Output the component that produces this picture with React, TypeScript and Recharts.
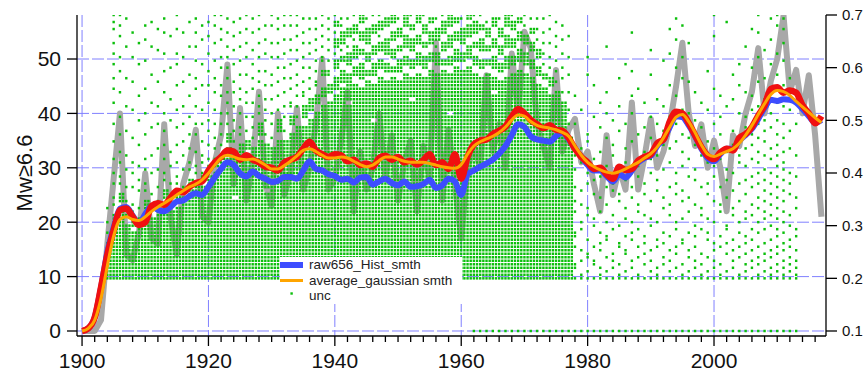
import React from "react";
import {
  ComposedChart,
  Line,
  Scatter,
  XAxis,
  YAxis,
  CartesianGrid,
  Legend,
} from "recharts";

// yearly series, 1900..2017
const years = Array.from({ length: 118 }, (_, i) => 1900 + i);

const grayCounts = [
  0, 0, 0, 2, 16, 28, 40, 14, 13, 18,
  29, 17, 16, 38, 21, 14, 27, 31, 37, 21,
  20, 31, 36, 49, 27, 41, 24, 31, 44, 27,
  23, 40, 25, 29, 41, 26, 30, 38, 50, 26,
  28, 35, 44, 22, 33, 26, 30, 40, 28, 36,
  24, 31, 35, 22, 34, 28, 53, 24, 37, 27,
  17, 30, 34, 30, 47, 33, 38, 30, 51, 40,
  55, 52, 38, 34, 30, 48, 33, 37, 39, 31,
  33, 27, 22, 36, 25, 30, 26, 42, 26, 32,
  39, 30, 33, 38, 45, 53, 40, 34, 38, 30,
  35, 30, 22, 36, 34, 40, 44, 52, 40, 46,
  50, 58, 44, 48, 40, 47, 36, 21,
];

const rawHistSmth = [
  0, 0.5, 2.5, 8, 14.5, 19, 22.5, 22.8, 21.2, 19.8,
  21.5, 23, 22.3, 22, 22.8, 23.8, 24, 24.8, 25.3, 25,
  26.5, 28.2, 29.8, 31, 30.5, 29, 28.4, 29.3, 28.5, 28,
  27.4, 27.6, 28.3, 28.3, 28, 29.5, 31.2, 29.8, 29.5, 28.8,
  28.5, 27.8, 28, 27.3, 28.2, 28.3, 26.9, 27.5, 28, 27.2,
  26.8, 27.5, 26.5, 26.6, 27, 27.8, 26.3, 26.8, 28, 27.5,
  25, 28.8, 29.5, 30.2, 30.8, 31.5, 32.6, 34, 36, 38,
  37.5, 35.8, 35.2, 35, 34.8, 35.8, 36.5, 35.2, 33.5, 32,
  30.5, 29.5, 29.5, 28.5, 27.5, 28.8, 28.2, 29.5, 31, 31.8,
  32.2, 34, 35.2, 37.5, 39.5, 39.3, 37.8, 35.8, 33.5, 31.8,
  31.2, 32.5, 33.5, 33.5, 35, 36, 37.2, 39, 41, 42.5,
  42.3, 42.6, 42.5, 42, 40.8, 39.5, 38.3, 38.8,
];

const redSmth = [
  0, 0.5, 2.5, 8, 14, 18.5, 22.2, 22.5, 21, 19.5,
  20, 23, 23.5, 23.2, 24.5, 25.8, 25.5, 26.5, 27.2, 27.5,
  29.5, 31, 32, 33.2, 33, 31.5, 32.3, 31.5, 31, 30.2,
  30, 29.5, 31, 31.5, 32, 33.5, 34.8, 33.2, 32.5, 32,
  32.5, 32.3, 31.2, 31.5, 30.5, 30.8, 30.2, 31.8, 32.2, 31.5,
  32, 31, 31.3, 30.6, 31.4, 32.5, 30.5, 31, 29.8, 32.5,
  28, 32, 34.3, 35, 35.2, 36.2, 36.8, 37.6, 39.4, 40.8,
  40, 38.8, 38, 37.3, 37.8, 37, 36.8, 35.5, 33.5, 32,
  31, 29.8, 30, 28.8, 28, 30.2, 29.6, 29.8, 31.3, 32,
  32.5, 34.5, 35.2, 38.5, 40.3, 40, 38.2, 36, 33.8, 32.2,
  31.6, 32.8, 33.5, 33.2, 35.5, 36.2, 37.5, 39.6, 41.5, 44.5,
  44.8, 43.8, 44.2, 43.8, 41.5, 40, 38.2, 39.5,
];

const averageGaussianSmth = [
  0, 0.5, 2, 6, 12, 17.5, 20.5, 21, 20.5, 20.3,
  21, 22, 22.8, 23.5, 24.2, 25, 25.8, 26.5, 27, 27.8,
  29, 30.5, 31.8, 32.3, 32, 31.6, 31.5, 31.6, 31.2, 30.5,
  29.8, 29.8, 30.4, 31.2, 32.2, 33.2, 33.5, 33, 32.3, 31.8,
  31.8, 32, 31.8, 31.2, 30.6, 30.2, 30.5, 31.3, 32, 32,
  31.6, 31.2, 31, 31, 31, 30.8, 30.5, 30.2, 30, 29.9,
  30.6, 32.5, 34, 34.8, 35.3, 35.8, 36.5, 37.5, 38.8, 39.7,
  39.5, 38.5, 37.8, 37.5, 37.3, 37, 36.5, 35.8, 34, 32.3,
  31, 30.2, 29.6, 29.2, 29, 29.3, 29.8, 30.4, 31, 31.8,
  32.6, 33.8, 35.5, 37.5, 39.3, 39.8, 38.5, 36.5, 34.2, 32.5,
  32.1, 32.5, 33, 33.5, 34.5, 36, 37.8, 39.8, 41.8, 43.5,
  44.2, 44, 43.3, 42.2, 41.2, 40.2, 39.2, 38.3,
];

// unc dots sit on a grid of rows 1/150 apart, starting at 0.2 (right axis)
const UNC_BASE = 0.2;
const UNC_STEP = 1 / 150;
const uncYears = Array.from({ length: 110 }, (_, i) => 1904 + i);
// filled row ranges [from, to, from, to...] drawn at two columns per year
const uncFill: number[][] = [
  [0, 10], [0, 18], [0, 20, 22, 24], [0, 15], [0, 13, 15, 16], [0, 17],
  [0, 18, 20, 22], [0, 17], [0, 19], [0, 21, 23, 25], [0, 19], [0, 20, 23, 24],
  [0, 23], [0, 25, 27, 28], [0, 27], [0, 26, 28, 30],
  [0, 29], [0, 30, 32, 34], [0, 35], [0, 37, 39, 41], [0, 22, 24, 36], [0, 38],
  [0, 35, 37, 39], [0, 37], [0, 39, 41, 44], [0, 24, 26, 38],
  [0, 37], [0, 39, 42, 45], [0, 39], [0, 41, 44, 46], [0, 43], [0, 43, 46, 49],
  [0, 45, 48, 51], [0, 47, 50, 52], [0, 49, 52, 54, 58, 59], [0, 50, 53, 55],
  [0, 52, 54, 57, 60, 62, 66, 68, 72, 73],
  [0, 54, 56, 59, 62, 63, 67, 70],
  [0, 49, 51, 58, 61, 64, 69, 71],
  [0, 55, 58, 60, 63, 66, 70, 72],
  [0, 54, 57, 61, 64, 65, 68, 70, 73, 75],
  [0, 56, 58, 59, 62, 64, 67, 71],
  [0, 44, 46, 55, 58, 61, 64, 66, 70, 72],
  [0, 57, 60, 62, 65, 67, 71, 73],
  [0, 56, 59, 61, 64, 68, 72, 74],
  [0, 57, 59, 60, 63, 65, 68, 70, 73, 75],
  [0, 56, 59, 62, 65, 66, 69, 71],
  [0, 58, 61, 63, 66, 69, 72, 75],
  [0, 50, 52, 57, 60, 62, 65, 68, 71, 72],
  [0, 58, 61, 64, 67, 69, 73, 75],
  [0, 57, 60, 63, 66, 67, 70, 72],
  [0, 59, 62, 64, 67, 70, 73, 74],
  [0, 58, 61, 64, 68, 71],
  [0, 59, 61, 62, 65, 67, 70, 73],
  [0, 46, 48, 58, 61, 63, 66, 69, 72, 75],
  [0, 60, 62, 65, 68, 70, 73, 74],
  [0, 59, 62, 64, 67, 71],
  [0, 60, 63, 66, 69, 72, 74, 75],
  [0, 58, 61, 63, 66, 67, 70, 73],
  [0, 57, 60, 62, 65, 68, 71, 72],
  [0, 58, 61, 62, 65, 66, 69, 71],
  [0, 52, 54, 57, 60, 63, 66, 68, 72, 74],
  [0, 56, 59, 61, 64, 66, 69, 71],
  [0, 57, 60, 63, 66, 69, 72, 75],
  [0, 58, 61, 63, 66, 68, 71, 73],
  [0, 59, 62, 65, 68, 70, 73, 74],
  [0, 58, 61, 64, 67, 69],
  [0, 57, 60, 62, 65, 67, 70, 71],
  [0, 55, 58, 60, 63, 65],
  [0, 54, 57, 58],
  [0, 52, 55, 57],
  [0, 53],
  [0, 50],
  [0, 40],
  [], [], [], [], [], [], [], [], [], [],
  [], [], [], [], [], [], [], [], [], [],
  [], [], [], [], [], [], [], [], [], [],
  [], [], [], [], [], [],
];
// single dots (row numbers) at one column per year
const uncDots: number[][] = [
  [13, 16, 20],
  [21, 23, 27, 30, 34, 39, 44, 50, 54, 57, 61, 64, 67, 71, 73, 75],
  [27, 29, 33, 36, 41, 46, 53, 59, 63, 69, 72, 75],
  [18, 22, 26, 31, 35, 42, 49, 57, 66, 74],
  [19, 21, 26, 30, 33, 40, 48, 56, 63, 70],
  [20, 25, 28, 32, 38, 45, 52, 61, 67],
  [25, 27, 31, 34, 41, 47, 54, 62, 68, 72],
  [20, 24, 30, 35, 43, 50, 58, 66, 73],
  [22, 26, 31, 37, 44, 49, 56, 65, 71],
  [28, 30, 34, 38, 42, 47, 53, 59, 64, 70, 74],
  [22, 27, 32, 36, 45, 51, 60, 69],
  [27, 29, 33, 38, 43, 48, 55, 61, 64, 71, 75],
  [26, 31, 35, 39, 44, 49, 56, 63, 70],
  [31, 33, 37, 41, 46, 52, 58, 66, 73],
  [30, 32, 36, 41, 44, 49, 54, 57, 62, 66, 70, 74],
  [33, 35, 39, 44, 48, 55, 61, 68, 72],
  [32, 34, 38, 42, 45, 50, 55, 59, 64, 69, 73],
  [37, 40, 44, 48, 53, 57, 62, 67, 72, 75],
  [38, 41, 44, 47, 52, 55, 60, 63, 68, 71, 75],
  [44, 47, 50, 53, 57, 60, 63, 66, 70, 74],
  [39, 42, 45, 49, 53, 56, 61, 65, 69, 73],
  [41, 43, 47, 51, 54, 58, 62, 66, 70, 74],
  [42, 46, 50, 53, 58, 63, 67, 71, 75],
  [40, 43, 46, 50, 54, 57, 61, 65, 70, 74],
  [47, 49, 52, 56, 59, 63, 67, 71, 75],
  [41, 45, 48, 51, 55, 59, 64, 68, 72],
  [40, 44, 47, 51, 55, 58, 63, 67, 72, 75],
  [48, 52, 56, 60, 63, 67, 71, 74],
  [42, 46, 49, 53, 57, 60, 64, 68, 72, 75],
  [49, 50, 54, 57, 61, 65, 68, 72, 75],
  [46, 49, 52, 55, 58, 62, 65, 69, 72, 75],
  [52, 53, 56, 60, 63, 67, 70, 74],
  [54, 57, 60, 64, 67, 71, 74],
  [55, 56, 59, 62, 65, 68, 71, 74],
  [62, 63, 66, 69, 72, 75],
  [58, 59, 62, 65, 68, 71, 74],
  [64, 70, 75],
  [65, 72, 74],
  [66, 74],
  [68, 75],
  [],
  [74],
  [75],
  [69, 75],
  [],
  [],
  [74],
  [],
  [75],
  [],
  [75],
  [],
  [66, 74],
  [75],
  [],
  [],
  [74],
  [],
  [75],
  [75],
  [73],
  [],
  [74],
  [],
  [75],
  [],
  [72, 75],
  [74],
  [68, 71, 74],
  [61, 64, 67, 70, 74],
  [60, 63, 67, 71, 75],
  [56, 59, 62, 66, 69, 73],
  [53, 57, 60, 64, 68, 72],
  [44, 48, 53, 58, 63, 69],
  [0, 3, 4, 9, 12, 13, 19, 22, 26, 31, 35, 44, 52],
  [0, 1, 5, 8, 14, 16, 21, 25, 33, 37, 48],
  [0, 2, 6, 7, 11, 18, 20, 27, 30, 39, 41, 58, 63],
  [0, 4, 5, 9, 15, 17, 24, 28, 34, 46, 55],
  [0, 1, 3, 8, 10, 13, 19, 23, 29, 36, 43, 50],
  [0, 2, 6, 11, 12, 16, 21, 26, 32, 40, 47, 53, 66],
  [0, 3, 5, 7, 14, 18, 25, 27, 35, 38, 45],
  [0, 1, 4, 9, 10, 15, 22, 24, 31, 42, 49, 57],
  [0, 2, 7, 8, 12, 17, 20, 28, 33, 37, 44, 61],
  [0, 3, 5, 11, 13, 16, 23, 26, 30, 39, 47, 52, 59, 70],
  [0, 1, 6, 9, 14, 19, 21, 29, 32, 41, 54],
  [0, 4, 7, 10, 12, 18, 24, 27, 36, 43, 50],
  [0, 2, 5, 8, 15, 17, 22, 30, 34, 40, 46, 58, 65],
  [0, 1, 3, 9, 11, 16, 25, 28, 35, 44, 51],
  [0, 4, 6, 10, 13, 20, 23, 31, 38, 42, 49, 62],
  [0, 2, 5, 8, 12, 18, 21, 26, 33, 37, 46, 55, 64, 71],
  [0, 3, 7, 9, 14, 16, 24, 27, 30, 39, 44, 52, 60, 68, 74],
  [0, 1, 4, 10, 11, 17, 22, 25, 32, 36, 41, 48, 57, 63, 72],
  [0, 2, 6, 8, 13, 19, 23, 29, 34, 40, 47, 56, 67],
  [0, 3, 5, 9, 12, 15, 21, 28, 31, 38, 45, 53],
  [0, 1, 4, 7, 14, 18, 20, 26, 35, 43, 50],
  [0, 2, 6, 11, 13, 17, 24, 27, 33, 39, 48, 59],
  [0, 3, 5, 8, 10, 16, 22, 29, 32, 37, 44, 54, 69, 75],
  [0, 1, 4, 9, 12, 19, 21, 26, 34, 41, 46, 52],
  [0, 2, 7, 10, 14, 15, 23, 28, 31, 36, 49, 73],
  [0, 3, 5, 8, 11, 18, 20, 25, 30, 38, 42, 51, 58],
  [0, 1, 6, 9, 13, 16, 22, 27, 33, 35, 40, 47, 55, 61],
  [0, 2, 4, 7, 10, 12, 17, 19, 24, 28, 32, 37, 43, 46, 53, 66],
  [0, 3, 5, 8, 11, 14, 18, 21, 26, 29, 34, 38, 41, 48, 52, 60, 71],
  [0, 1, 4, 6, 9, 13, 16, 20, 23, 27, 30, 33, 36, 40, 44, 49, 56, 63, 70, 75],
  [0, 2, 5, 7, 10, 14, 17, 19, 22, 25, 28, 31, 35, 39, 42, 45, 51, 57, 65],
  [0, 1, 3, 6, 8, 11, 15, 18, 21, 24, 27, 30, 34, 37, 43, 47, 54, 61, 68, 74],
  [0, 2, 4, 7, 9, 12, 14, 17, 20, 23, 26, 29, 32, 35, 38, 41, 45, 50, 58, 64, 72, 75],
  [0, 1, 3, 5, 8, 10, 13, 16, 19, 22, 25, 28, 31, 33, 36, 40, 44, 49, 55, 62, 67, 71, 74],
  [0, 2, 4, 6, 9, 11, 15, 18, 24, 27, 30, 37, 42, 48, 57],
  [0, 1, 3, 5, 8, 12, 14, 20, 23, 29, 35, 44],
];
const uncFloor = 0.1;
const uncFloorYears = Array.from({ length: 52 }, (_, i) => 1962 + i);

const xTicks = Array.from({ length: 59 }, (_, i) => 1900 + i * 2);
const gridYears = [1900, 1920, 1940, 1960, 1980, 2000];
const leftTicks = [0, 10, 20, 30, 40, 50];
const rightTicks = [0.1, 0.2, 0.3, 0.4, 0.5, 0.6, 0.7];

const GREEN = "#0cbf0c";
const BLUE = "#3d4dff";
const ORANGE = "#ffa500";
const FONT = "'Liberation Sans', Arial, Helvetica, sans-serif";

const lineData = years.map((year, i) => ({
  year,
  gray: grayCounts[i],
  raw: rawHistSmth[i],
  red: redSmth[i],
  avg: averageGaussianSmth[i],
}));

const uncPoints: { year: number; unc: number }[] = [];
uncYears.forEach((yr, i) => {
  const f = uncFill[i];
  for (let p = 0; p < f.length; p += 2) {
    for (let k = f[p]; k <= f[p + 1]; k++) {
      uncPoints.push({ year: yr, unc: UNC_BASE + k * UNC_STEP });
      uncPoints.push({ year: yr + 0.5, unc: UNC_BASE + k * UNC_STEP });
    }
  }
  uncDots[i].forEach((k) => uncPoints.push({ year: yr, unc: UNC_BASE + k * UNC_STEP }));
});
uncFloorYears.forEach((yr) => uncPoints.push({ year: yr, unc: uncFloor }));

const UncDot = (props: any) => (
  <rect x={props.cx - 1.2} y={props.cy - 1.25} width={2.4} height={2.5} fill={GREEN} />
);

const YearTick = (props: any) => {
  const { x, y, payload } = props;
  const major = payload.value % 20 === 0;
  return (
    <g transform={`translate(${x},${y})`}>
      <line x1={0} x2={0} y1={0} y2={major ? 10 : 6} stroke="#000" strokeWidth={1.3} />
      {major && (
        <text x={0} y={32} textAnchor="middle" fontSize={21} fill="#111" fontFamily={FONT}>
          {payload.value}
        </text>
      )}
    </g>
  );
};

const LegendBox = () => (
  <div style={{ background: "#fff", width: 182, height: 47 }}>
    <svg width={182} height={47} style={{ display: "block" }} fontFamily={FONT} fontSize={13.5} fill="#222">
      <rect x={0} y={5} width={23} height={6} fill={BLUE} />
      <text x={29} y={12}>raw656_Hist_smth</text>
      <rect x={0} y={22} width={23} height={3} fill={ORANGE} />
      <text x={29} y={28}>average_gaussian smth</text>
      <rect x={10.4} y={35.3} width={2.4} height={2.4} fill={GREEN} />
      <text x={29} y={43}>unc</text>
    </svg>
  </div>
);

export default function App() {
  return (
    <div style={{ width: 867, height: 383, background: "#fff" }}>
      <style>{"body{margin:0}"}</style>
      <ComposedChart
        width={867}
        height={383}
        data={lineData}
        margin={{ top: 15, right: 0, bottom: 0, left: 0 }}
        style={{ fontFamily: FONT }}
      >
        <CartesianGrid
          yAxisId="left"
          stroke="#8080ff"
          strokeDasharray="12 3"
          horizontalValues={leftTicks}
          verticalValues={gridYears}
        />
        <XAxis
          dataKey="year"
          type="number"
          domain={[1899.2, 2017.72]}
          allowDataOverflow
          ticks={xTicks}
          interval={0}
          height={47}
          tickSize={0}
          tickMargin={0}
          tickLine={false}
          tick={<YearTick />}
          axisLine={{ stroke: "#000", strokeWidth: 1.3 }}
        />
        <YAxis
          yAxisId="left"
          domain={[-0.92, 58.09]}
          allowDataOverflow
          ticks={leftTicks}
          interval={0}
          width={77}
          tickSize={10}
          tickMargin={6}
          tick={{ fontSize: 21, fill: "#111" }}
          tickLine={{ stroke: "#000", strokeWidth: 1.3 }}
          axisLine={{ stroke: "#000", strokeWidth: 1.3 }}
          label={{
            content: () => (
              <text
                x={24}
                y={173}
                transform="rotate(-90 24 173)"
                textAnchor="middle"
                dominantBaseline="central"
                fontSize={22}
                fill="#111"
                fontFamily={FONT}
              >
                Mw≥6.6
              </text>
            ),
          }}
        />
        <YAxis
          yAxisId="right"
          orientation="right"
          domain={[0.0905, 0.7]}
          allowDataOverflow
          ticks={rightTicks}
          interval={0}
          width={41}
          tickSize={11}
          tickMargin={5}
          tick={{ fontSize: 15, fill: "#111" }}
          tickLine={{ stroke: "#000", strokeWidth: 1.3 }}
          axisLine={{ stroke: "#000", strokeWidth: 1.3 }}
        />
        <Line
          yAxisId="left"
          dataKey="gray"
          type="linear"
          stroke="#a8a8a8"
          strokeWidth={6}
          strokeLinejoin="round"
          dot={false}
          activeDot={false}
          isAnimationActive={false}
          zIndex={500}
        />
        <Scatter
          yAxisId="right"
          data={uncPoints}
          dataKey="unc"
          shape={UncDot}
          isAnimationActive={false}
          zIndex={600}
        />
        <Line
          yAxisId="left"
          dataKey="raw"
          type="monotone"
          stroke={BLUE}
          strokeWidth={6}
          strokeLinejoin="round"
          dot={false}
          activeDot={false}
          isAnimationActive={false}
          zIndex={700}
        />
        <Line
          yAxisId="left"
          dataKey="red"
          type="monotone"
          stroke="#f01010"
          strokeWidth={6.5}
          strokeLinejoin="round"
          dot={false}
          activeDot={false}
          isAnimationActive={false}
          zIndex={710}
        />
        <Line
          yAxisId="left"
          dataKey="avg"
          type="monotone"
          stroke={ORANGE}
          strokeWidth={3}
          strokeLinejoin="round"
          dot={false}
          activeDot={false}
          isAnimationActive={false}
          zIndex={720}
        />
        <Legend
          layout="vertical"
          align="center"
          verticalAlign="middle"
          wrapperStyle={{ left: 280, top: 257, width: 182, height: 47 }}
          content={() => <LegendBox />}
        />
      </ComposedChart>
    </div>
  );
}
